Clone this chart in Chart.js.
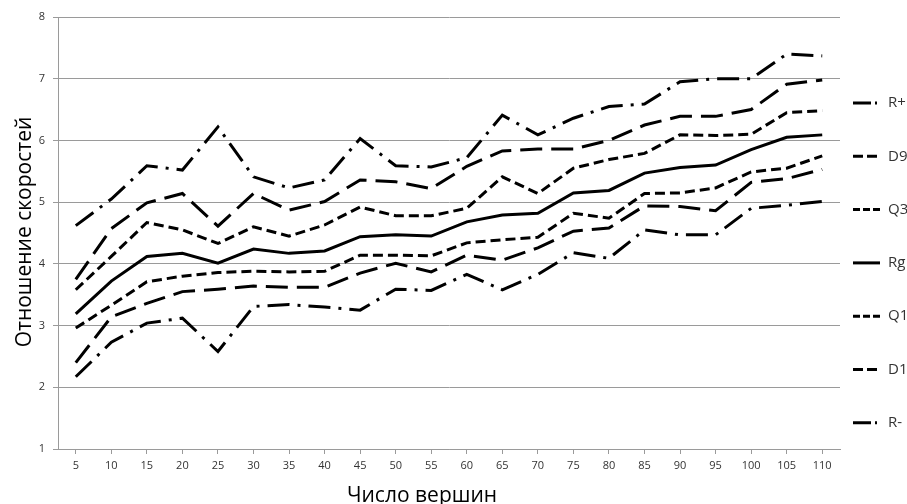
<!DOCTYPE html>
<html lang="ru">
<head>
<meta charset="utf-8">
<title>Отношение скоростей</title>
<script src="https://cdn.jsdelivr.net/npm/chart.js@4.4.1/dist/chart.umd.min.js"></script>
<style>
  html, body { margin: 0; padding: 0; background: #fff; overflow: hidden; }
  canvas { display: block; }
</style>
</head>
<body>
<canvas id="chart" width="907" height="504"></canvas>
<script>
// число вершин (ось X)
const vertices = ["5", "10", "15", "20", "25", "30", "35", "40", "45", "50", "55",
  "60", "65", "70", "75", "80", "85", "90", "95", "100", "105", "110"];

// отношение скоростей по сериям
const rPlus  = [4.62, 5.05, 5.59, 5.52, 6.22, 5.41, 5.23, 5.36, 6.03, 5.59, 5.57,
  5.72, 6.41, 6.09, 6.36, 6.55, 6.59, 6.95, 7.00, 7.00, 7.40, 7.37];
const d9     = [3.75, 4.57, 4.99, 5.14, 4.61, 5.14, 4.87, 5.01, 5.36, 5.33, 5.22,
  5.58, 5.83, 5.86, 5.86, 6.00, 6.25, 6.39, 6.39, 6.50, 6.91, 6.98];
const q3     = [3.58, 4.12, 4.67, 4.55, 4.33, 4.60, 4.45, 4.63, 4.92, 4.78, 4.78,
  4.90, 5.41, 5.14, 5.55, 5.69, 5.79, 6.09, 6.08, 6.10, 6.45, 6.48];
const rg     = [3.19, 3.72, 4.12, 4.17, 4.01, 4.24, 4.17, 4.21, 4.44, 4.47, 4.45,
  4.68, 4.79, 4.82, 5.15, 5.19, 5.47, 5.56, 5.60, 5.85, 6.05, 6.09];
const q1     = [2.96, 3.33, 3.71, 3.80, 3.86, 3.88, 3.87, 3.88, 4.14, 4.14, 4.13,
  4.34, 4.39, 4.43, 4.82, 4.74, 5.14, 5.15, 5.23, 5.49, 5.55, 5.75];
const d1     = [2.40, 3.14, 3.36, 3.55, 3.59, 3.64, 3.62, 3.62, 3.85, 4.01, 3.87,
  4.14, 4.06, 4.26, 4.53, 4.58, 4.94, 4.93, 4.86, 5.32, 5.38, 5.53];
const rMinus = [2.17, 2.73, 3.04, 3.12, 2.58, 3.31, 3.34, 3.30, 3.25, 3.59, 3.57,
  3.83, 3.58, 3.83, 4.18, 4.09, 4.55, 4.47, 4.47, 4.90, 4.95, 5.01];

const seriesNames = ["R+", "D9", "Q3", "Rg", "Q1", "D1", "R-"];

const FONT = "'Open Sans', 'Noto Sans', sans-serif";

// линии: штрих-пунктир, длинный штрих, штрих, сплошная
const DASH_DOT = [22, 8, 3, 8];
const LONG_DASH = [22, 9];
const SHORT_DASH = [10, 5];

function line(label, data, dash, legendDash) {
  return {
    label,
    data,
    borderColor: "#000",
    borderWidth: 3,
    borderDash: dash,
    borderCapStyle: "butt",
    borderJoinStyle: "miter",
    pointRadius: 0,
    pointHoverRadius: 0,
    tension: 0,
    fill: false,
    legendDash,
  };
}

// легенда справа, как в Excel (обрезана краем картинки)
const sideLegend = {
  id: "sideLegend",
  afterDraw(chart, args, opts) {
    const { ctx, chartArea } = chart;
    const x0 = chartArea.right + opts.offsetX;
    ctx.save();
    ctx.font = opts.font;
    ctx.textBaseline = "middle";
    ctx.textAlign = "left";
    chart.data.datasets.forEach((ds, i) => {
      const y = opts.top + i * opts.step;
      ctx.beginPath();
      ctx.setLineDash(ds.legendDash || []);
      ctx.lineWidth = ds.borderWidth;
      ctx.strokeStyle = ds.borderColor;
      ctx.lineCap = "butt";
      ctx.moveTo(x0, y);
      ctx.lineTo(x0 + opts.lineLength, y);
      ctx.stroke();
      ctx.setLineDash([]);
      ctx.fillStyle = opts.color;
      ctx.fillText(ds.label, x0 + opts.lineLength + opts.gap, y);
    });
    ctx.restore();
  },
};

// подписи осей (подпись X в Excel смещена влево от центра)
const axisTitles = {
  id: "axisTitles",
  afterDraw(chart, args, opts) {
    const { ctx } = chart;
    ctx.save();
    ctx.font = opts.font;
    ctx.fillStyle = opts.color;
    ctx.textAlign = "center";
    ctx.textBaseline = "alphabetic";
    ctx.fillText(opts.x.text, opts.x.cx, opts.x.baseline);
    ctx.translate(opts.y.baseline, opts.y.cy);
    ctx.rotate(-Math.PI / 2);
    ctx.fillText(opts.y.text, 0, 0);
    ctx.restore();
  },
};

new Chart(document.getElementById("chart"), {
  type: "line",
  data: {
    labels: vertices,
    datasets: [
      line(seriesNames[0], rPlus, DASH_DOT, [18, 4, 2, 4]),
      line(seriesNames[1], d9, LONG_DASH, [10, 4]),
      line(seriesNames[2], q3, SHORT_DASH, [7, 3]),
      line(seriesNames[3], rg, [], []),
      line(seriesNames[4], q1, SHORT_DASH, [7, 3]),
      line(seriesNames[5], d1, LONG_DASH, [10, 4]),
      line(seriesNames[6], rMinus, DASH_DOT, [18, 4, 2, 4]),
    ],
  },
  options: {
    responsive: false,
    animation: false,
    devicePixelRatio: 1,
    layout: { padding: { top: 17, right: 67, left: 0, bottom: 0 } },
    plugins: {
      legend: { display: false },
      tooltip: { enabled: false },
      sideLegend: {
        offsetX: 13,
        lineLength: 27,
        gap: 8,
        top: 103,
        step: 53.3,
        font: "15px " + FONT,
        color: "#333",
      },
      axisTitles: {
        font: "21px " + FONT,
        color: "#000",
        x: { text: "Число вершин", cx: 422, baseline: 502 },
        y: { text: "Отношение скоростей", cy: 232, baseline: 31 },
      },
    },
    scales: {
      x: {
        offset: true,
        afterFit: (scale) => { scale.height = 55; },
        border: { color: "#9a9a9a", width: 1 },
        grid: {
          offset: false,
          drawOnChartArea: false,
          drawTicks: true,
          tickLength: 5,
          color: "#9a9a9a",
        },
        ticks: {
          padding: 5,
          maxRotation: 0,
          autoSkip: false,
          color: "#333",
          font: { family: FONT, size: 11 },
        },
      },
      y: {
        min: 1,
        max: 8,
        afterFit: (scale) => { scale.width = 58; },
        border: { color: "#9a9a9a", width: 1 },
        grid: {
          color: "#9a9a9a",
          lineWidth: 1,
          drawTicks: true,
          tickLength: 5,
        },
        ticks: {
          stepSize: 1,
          padding: 8,
          color: "#333",
          font: { family: FONT, size: 11 },
        },
      },
    },
  },
  plugins: [sideLegend, axisTitles],
});
</script>
</body>
</html>
